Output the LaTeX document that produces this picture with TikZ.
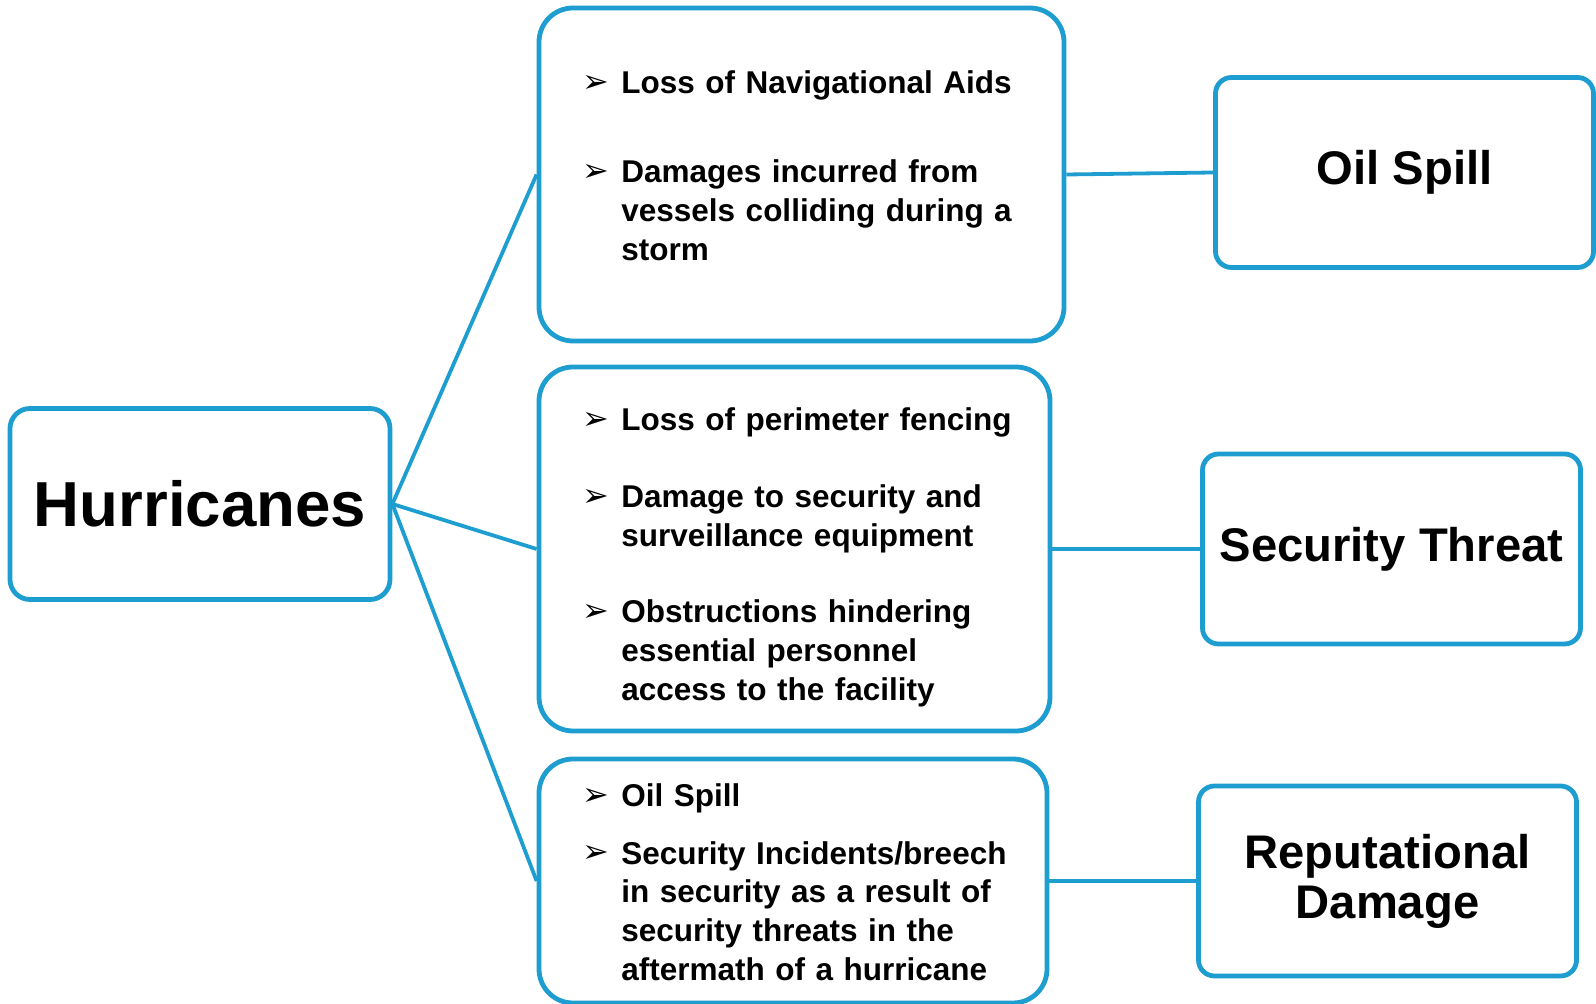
\documentclass[tikz,border=0pt]{standalone}
\usepackage{fontspec}
\setmainfont{Liberation Sans}
\newfontfamily\arrowfont{DejaVu Sans}
\definecolor{hurblue}{RGB}{30,158,208}
% arrowhead bullet hung left of each item
\newcommand{\bul}{\llap{\raisebox{0.6pt}{\arrowfont\fontsize{16}{16}\selectfont ➢}\hspace{6pt}}}

\begin{document}
\begin{tikzpicture}[x=0.5pt, y=-0.5pt,
        box/.style={draw=hurblue, line width=2.4pt, fill=white, inner sep=0pt},
        causebox/.style={box, rounded corners=10pt, minimum width=190pt, minimum height=95.5pt,
            font=\bfseries\fontsize{31.8}{36}\selectfont},
        listbox/.style={box, rounded corners=17pt},
        riskbox/.style={box, rounded corners=8pt, minimum width=189pt, minimum height=95pt,
            align=center, font=\bfseries\fontsize{23.6}{25}\selectfont},
        item/.style={anchor=base west, inner sep=0pt, text width=200pt, align=left,
            font=\bfseries\fontsize{15.75}{19.35}\selectfont},
        link/.style={draw=hurblue, line width=1.9pt}]
    \useasboundingbox (0, 0) rectangle (1596, 1004);

    \node[causebox] (hurricanes) at (200, 504) {Hurricanes};

    \node[listbox, minimum width=262.5pt, minimum height=166.5pt] (nav)      at (801.5, 174.5) {};
    \node[listbox, minimum width=255.5pt, minimum height=182pt]   (perim)    at (794.5, 549) {};
    \node[listbox, minimum width=254pt,   minimum height=122pt]   (incident) at (793, 881) {};

    \node[riskbox] (oilspill)   at (1404.5, 172.5) {Oil Spill};
    \node[riskbox] (security)   at (1391.5, 549)   {Security Threat};
    \node[riskbox] (reputation) at (1387.5, 881)   {Reputational\\Damage};

    % items of the top box
    \node[item] (nav1) at (621, 94)  {\bul Loss of Navigational Aids};
    \node[item] (nav2) at (621, 183) {\bul Damages incurred from\\vessels colliding during a\\storm};

    % items of the middle box
    \node[item] (perim1) at (621, 431) {\bul Loss of perimeter fencing};
    \node[item] (perim2) at (621, 508) {\bul Damage to security and\\surveillance equipment};
    \node[item] (perim3) at (621, 623) {\bul Obstructions hindering\\essential personnel\\access to the facility};

    % items of the bottom box
    \node[item] (inc1) at (621, 807) {\bul Oil Spill};
    \node[item] (inc2) at (621, 864) {\bul Security Incidents/breech\\in security as a result of\\security threats in the\\aftermath of a hurricane};

    \draw[link] (hurricanes.east) -- (nav.west);
    \draw[link] (hurricanes.east) -- (perim.west);
    \draw[link] (hurricanes.east) -- (incident.west);
    \draw[link] (nav.east)      -- (oilspill.west);
    \draw[link] (perim.east)    -- (security.west);
    \draw[link] (incident.east) -- (reputation.west);
\end{tikzpicture}
\end{document}
